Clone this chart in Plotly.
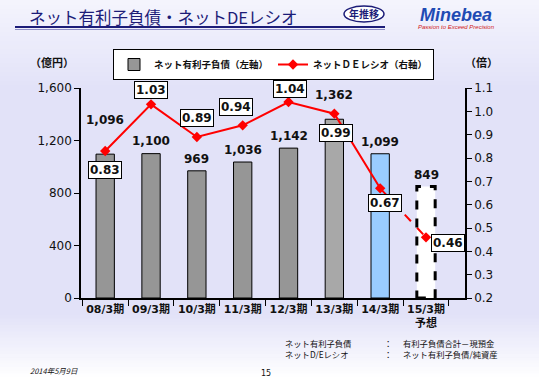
import plotly.graph_objects as go

categories = ["08/3期", "09/3期", "10/3期", "11/3期", "12/3期", "13/3期", "14/3期", "15/3期<br>予想"]
net_debt = [1096, 1100, 969, 1036, 1142, 1362, 1099, 849]
de_ratio = [0.83, 1.03, 0.89, 0.94, 1.04, 0.99, 0.67, 0.46]
debt_labels = ["1,096", "1,100", "969", "1,036", "1,142", "1,362", "1,099", "849"]
ratio_labels = ["0.83", "1.03", "0.89", "0.94", "1.04", "0.99", "0.67", "0.46"]
left_ticks = [0, 400, 800, 1200, 1600]
right_ticks = [0.2, 0.3, 0.4, 0.5, 0.6, 0.7, 0.8, 0.9, 1.0, 1.1]
note_terms = ["ネット有利子負債", "ネットD/Eレシオ"]
note_defs = ["有利子負債合計－現預金", "ネット有利子負債/純資産"]

bar_colors = ["#969696"] * 5 + ["#A8A8A8", "#99CCFF", "#FFFFFF"]
bar_yshift = [25, 4, 3, 3, 3, 15, 3, 3]
ratio_shift = [(0, -19), (0, 14), (0, 19), (-7, 18), (1, 13), (2, -19), (5, -15), (22, -6)]

NUM = "DejaVu Sans, Noto Sans CJK JP"
JP = "Noto Sans CJK JP"

fig = go.Figure()

def px(x):
    return (x - 81) / 384

def py(y):
    return (298 - y) / 210

def mix(c1, c2, t):
    return "rgb(%d,%d,%d)" % tuple(round(a + (b - a) * t) for a, b in zip(c1, c2))

top_c = (244, 244, 253)
mid_c = (226, 226, 248)
white = (255, 255, 255)
shapes = [dict(type="rect", xref="paper", yref="paper", x0=-0.3, x1=1.3,
               y0=py(316), y1=py(89), fillcolor="rgb(226,226,248)", line=dict(width=0), layer="below")]
n = 20
for i in range(n):
    a = i * 90 / n
    b = (i + 1) * 90 / n + 0.5
    shapes.append(dict(type="rect", xref="paper", yref="paper", x0=-0.3, x1=1.3,
                       y0=py(b), y1=py(a),
                       fillcolor=mix(top_c, mid_c, i / (n - 1)), line=dict(width=0), layer="below"))
for i in range(n):
    a = 315 + i * 65 / n
    b = 315 + (i + 1) * 65 / n + 0.5
    shapes.append(dict(type="rect", xref="paper", yref="paper", x0=-0.3, x1=1.3,
                       y0=py(b), y1=py(a),
                       fillcolor=mix(mid_c, white, (i + 1) / n), line=dict(width=0), layer="below"))

fig.add_trace(go.Bar(
    x=categories, y=net_debt, width=0.4,
    marker=dict(color=bar_colors, line=dict(color=["#000000"] * 7 + ["rgba(0,0,0,0)"], width=1)),
    name="<b>ネット有利子負債（左軸）</b>", showlegend=True, hoverinfo="skip",
))

fi = len(categories) - 1
shapes.append(dict(type="rect", xref="x", yref="y", x0=fi - 0.2, x1=fi + 0.2, y0=0, y1=net_debt[fi],
                   line=dict(color="black", width=3, dash="dash"), fillcolor="rgba(0,0,0,0)"))

fig.add_trace(go.Scatter(
    x=categories[:-1], y=de_ratio[:-1], yaxis="y2", mode="lines+markers",
    line=dict(color="#FF0000", width=2), marker=dict(symbol="diamond", size=8, color="#FF0000"),
    name="<b>ネットＤＥレシオ（右軸）</b>", showlegend=True, hoverinfo="skip",
))
fig.add_trace(go.Scatter(
    x=categories[-2:], y=de_ratio[-2:], yaxis="y2", mode="lines",
    line=dict(color="#FF0000", width=2, dash="dash"), showlegend=False, hoverinfo="skip",
))
fig.add_trace(go.Scatter(
    x=categories[-1:], y=de_ratio[-1:], yaxis="y2", mode="markers",
    marker=dict(symbol="diamond", size=8, color="#FF0000"), showlegend=False, hoverinfo="skip",
))

ann = []
for c, v, t, ys in zip(categories, net_debt, debt_labels, bar_yshift):
    ann.append(dict(x=c, y=v, xref="x", yref="y", text="<b>%s</b>" % t, showarrow=False,
                    yanchor="bottom", yshift=ys, font=dict(family=NUM, size=12, color="#111111")))
for c, v, t, (xs, ys) in zip(categories, de_ratio, ratio_labels, ratio_shift):
    ann.append(dict(x=c, y=v, xref="x", yref="y2", text="<b>%s</b>" % t, showarrow=False,
                    xshift=xs, yshift=ys, bgcolor="white", bordercolor="black", borderwidth=1,
                    borderpad=1, font=dict(family=NUM, size=12, color="#111111")))

ann += [
    dict(x=px(27), y=py(17), xref="paper", yref="paper", xanchor="left", yanchor="middle",
         text="ネット有利子負債・ネットDEレシオ", showarrow=False,
         font=dict(family=JP, size=16.5, color="#1C1C78")),
    dict(x=px(364), y=py(14), xref="paper", yref="paper", xanchor="center", yanchor="middle",
         text="<b>年推移</b>", showarrow=False, font=dict(family=JP, size=10, color="#1C1C78")),
    dict(x=px(456), y=py(15), xref="paper", yref="paper", xanchor="center", yanchor="middle",
         text="<b><i>Minebea</i></b>", showarrow=False,
         font=dict(family="Liberation Sans, Arial", size=18, color="#1F4BB4")),
    dict(x=px(456), y=py(27), xref="paper", yref="paper", xanchor="center", yanchor="middle",
         text="<i>Passion to Exceed Precision</i>", showarrow=False,
         font=dict(family="Liberation Sans, Arial", size=6, color="#D02020")),
    dict(x=px(52), y=py(62), xref="paper", yref="paper", xanchor="center", yanchor="middle",
         text="<b>（億円）</b>", showarrow=False, font=dict(family=JP, size=11, color="#111111")),
    dict(x=px(481), y=py(62), xref="paper", yref="paper", xanchor="center", yanchor="middle",
         text="<b>（倍）</b>", showarrow=False, font=dict(family=JP, size=11, color="#111111")),
    dict(x=px(28), y=py(370), xref="paper", yref="paper", xanchor="left", yanchor="middle",
         text="<i>2014年5月9日</i>", showarrow=False, font=dict(family=JP, size=7.5, color="#111111")),
    dict(x=px(266), y=py(373), xref="paper", yref="paper", xanchor="center", yanchor="middle",
         text="15", showarrow=False, font=dict(family=NUM, size=8, color="#111111")),
]
for i, (term, d) in enumerate(zip(note_terms, note_defs)):
    yy = py(343 + 11 * i)
    nf = dict(family=JP, size=8.3, color="#111111")
    ann += [
        dict(x=px(283), y=yy, xref="paper", yref="paper", xanchor="left", yanchor="middle",
             text=term, showarrow=False, font=nf),
        dict(x=px(388), y=yy, xref="paper", yref="paper", xanchor="center", yanchor="middle",
             text="：", showarrow=False, font=nf),
        dict(x=px(401), y=yy, xref="paper", yref="paper", xanchor="left", yanchor="middle",
             text=d, showarrow=False, font=nf),
    ]

shapes += [
    dict(type="line", xref="paper", yref="paper", x0=px(15), x1=px(385), y0=py(27), y1=py(27),
         line=dict(color="#1C1C78", width=2)),
    dict(type="line", xref="paper", yref="paper", x0=px(15), x1=px(385), y0=py(29.5), y1=py(29.5),
         line=dict(color="#9090C8", width=1)),
    dict(type="circle", xref="paper", yref="paper", x0=px(344), x1=px(384), y0=py(22), y1=py(6),
         line=dict(color="#1C1C78", width=1.5), fillcolor="white"),
]

fig.update_layout(
    width=539, height=380,
    margin=dict(l=81, r=74, t=88, b=82, autoexpand=False),
    paper_bgcolor="rgb(226,226,248)", plot_bgcolor="rgba(0,0,0,0)",
    bargap=0.6,
    font=dict(family=NUM, color="#111111"),
    showlegend=True,
    legend=dict(orientation="h", x=px(113), y=py(49), xanchor="left", yanchor="top",
                bgcolor="white", bordercolor="black", borderwidth=1,
                font=dict(family=JP, size=9.5, color="#111111"),
                itemwidth=30, tracegroupgap=0),
    xaxis=dict(type="category", tickson="boundaries", ticks="outside", ticklen=6, tickangle=0,
               automargin=False,
               tickcolor="black", showline=True, linecolor="black", linewidth=1.5,
               tickfont=dict(family=NUM, size=11, color="#111111"), showgrid=False,
               tickprefix="<b>", ticksuffix="</b>"),
    yaxis=dict(range=[0, 1600], tickvals=left_ticks, tickformat=",", ticks="outside", ticklen=5,
               automargin=False,
               tickcolor="black", showline=True, linecolor="black", linewidth=1.5, showgrid=False,
               zeroline=False, tickfont=dict(family=NUM, size=12, color="#111111"),
               tickprefix="<b>", ticksuffix="</b>"),
    yaxis2=dict(range=[0.2, 1.1], tickvals=right_ticks, tickformat=".1f", overlaying="y",
                automargin=False,
                side="right", ticks="outside", ticklen=5, tickcolor="black", showline=True,
                linecolor="black", linewidth=1.5, showgrid=False, zeroline=False,
                tickfont=dict(family=NUM, size=12, color="#111111"),
                tickprefix="<b>", ticksuffix="</b>"),
    shapes=shapes,
    annotations=ann,
)

fig.write_html("out.html", config={"displayModeBar": False},
               post_script="document.body.style.margin='0';document.body.style.overflow='hidden';")
